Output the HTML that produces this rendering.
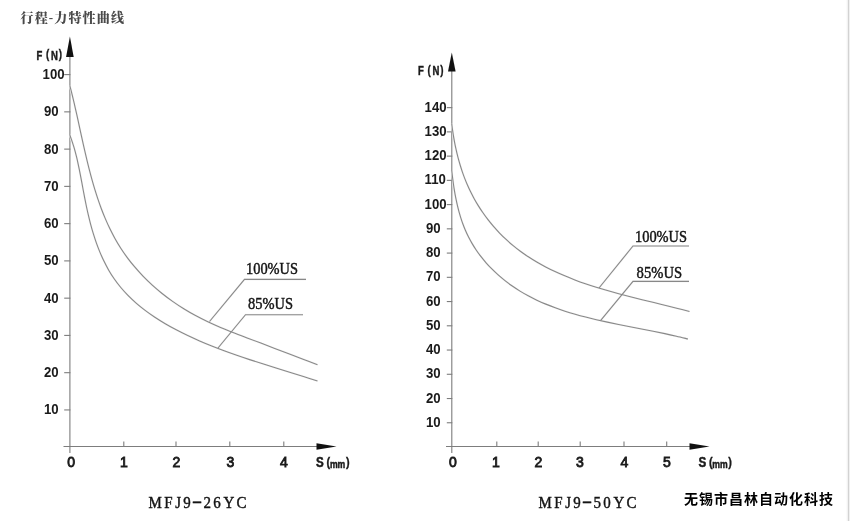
<!DOCTYPE html>
<html><head><meta charset="utf-8"><title>行程-力特性曲线</title>
<style>
html,body{margin:0;padding:0;background:#fff;}
body{width:850px;height:521px;position:relative;overflow:hidden;}
.title{position:absolute;top:8px;font:900 13px/20px "Liberation Serif","Noto Serif CJK SC",serif;color:#4a4a4a;letter-spacing:1.15px;left:20.5px;white-space:nowrap;}
.brand{position:absolute;left:684px;top:489px;font:bold 14px/20px "Liberation Sans","Noto Sans CJK SC",sans-serif;color:#000;letter-spacing:1px;white-space:nowrap;}
.edge{position:absolute;left:846px;top:0;width:4px;height:521px;background:linear-gradient(to right,#fbfbfb 0 1px,#f2f2f2 1px 2px,#d2d2d2 2px 3px,#f0f0f0 3px 4px);}
</style></head><body>
<svg width="850" height="521" viewBox="0 0 850 521" style="position:absolute;left:0;top:0">
<g fill="none" stroke="#7d7d7d" stroke-width="1.1">
<path d="M69.9,52V453.0"/>
<path d="M63.5,446.5H320"/>
<path d="M64.2,409.94H70.4"/>
<path d="M64.2,372.68H70.4"/>
<path d="M64.2,335.42H70.4"/>
<path d="M64.2,298.16H70.4"/>
<path d="M64.2,260.90H70.4"/>
<path d="M64.2,223.64H70.4"/>
<path d="M64.2,186.38H70.4"/>
<path d="M64.2,149.12H70.4"/>
<path d="M64.2,111.86H70.4"/>
<path d="M64.2,74.60H70.4"/>
<path d="M123.8,446.5v-5"/>
<path d="M176,446.5v-5"/>
<path d="M229.8,446.5v-5"/>
<path d="M283.8,446.5v-5"/>
<path d="M451.8,68V453.0"/>
<path d="M446,446.5H693"/>
<path d="M446.8,422.76H452.3"/>
<path d="M446.8,398.52H452.3"/>
<path d="M446.8,374.28H452.3"/>
<path d="M446.8,350.04H452.3"/>
<path d="M446.8,325.80H452.3"/>
<path d="M446.8,301.56H452.3"/>
<path d="M446.8,277.32H452.3"/>
<path d="M446.8,253.08H452.3"/>
<path d="M446.8,228.84H452.3"/>
<path d="M446.8,204.60H452.3"/>
<path d="M446.8,180.36H452.3"/>
<path d="M446.8,156.12H452.3"/>
<path d="M446.8,131.88H452.3"/>
<path d="M446.8,107.64H452.3"/>
<path d="M496.8,446.5v-5"/>
<path d="M538.2,446.5v-5"/>
<path d="M580.2,446.5v-5"/>
<path d="M624,446.5v-5"/>
<path d="M666.7,446.5v-5"/>
</g>
<g fill="none" stroke="#f5f5f5" stroke-width="2.1"><path d="M69.80,85.50C69.87,85.76 70.02,86.32 70.21,87.06C70.40,87.79 70.67,88.82 70.95,89.92C71.23,91.01 71.55,92.28 71.88,93.64C72.22,95.00 72.59,96.49 72.97,98.08C73.35,99.66 73.75,101.36 74.17,103.14C74.58,104.93 75.02,106.82 75.46,108.78C75.91,110.75 76.37,112.82 76.85,114.96C77.33,117.10 77.81,119.33 78.32,121.63C78.82,123.93 79.34,126.32 79.88,128.77C80.41,131.22 80.96,133.75 81.53,136.34C82.10,138.93 82.68,141.60 83.29,144.32C83.90,147.04 84.53,149.83 85.18,152.68C85.84,155.52 86.52,158.42 87.24,161.38C87.96,164.33 88.70,167.34 89.49,170.38C90.28,173.43 91.10,176.53 91.97,179.66C92.84,182.79 93.76,185.97 94.73,189.17C95.71,192.37 96.74,195.61 97.84,198.86C98.94,202.11 100.09,205.40 101.33,208.69C102.58,211.98 103.89,215.29 105.30,218.60C106.71,221.91 108.20,225.23 109.80,228.53C111.41,231.84 113.11,235.15 114.94,238.43C116.77,241.71 118.70,244.99 120.79,248.23C122.87,251.46 125.09,254.68 127.45,257.85C129.80,261.01 132.30,264.15 134.93,267.23C137.56,270.31 140.32,273.36 143.21,276.34C146.11,279.31 149.13,282.24 152.28,285.10C155.43,287.95 158.70,290.75 162.09,293.46C165.48,296.17 168.99,298.82 172.60,301.37C176.21,303.92 179.94,306.39 183.76,308.75C187.58,311.12 191.51,313.39 195.52,315.56C199.52,317.72 203.63,319.77 207.80,321.75C211.97,323.73 216.23,325.60 220.55,327.43C224.86,329.27 229.26,331.02 233.69,332.77C238.12,334.52 242.63,336.21 247.15,337.93C251.68,339.66 256.25,341.36 260.85,343.11C265.45,344.85 270.07,346.61 274.73,348.39C279.39,350.17 284.08,351.97 288.80,353.78C293.52,355.59 298.27,357.42 303.05,359.26C307.84,361.10 315.09,363.88 317.50,364.80"/><path d="M69.80,135.00C69.90,135.24 70.10,135.76 70.35,136.45C70.60,137.13 70.96,138.09 71.32,139.11C71.67,140.13 72.08,141.31 72.49,142.57C72.90,143.84 73.34,145.23 73.78,146.71C74.22,148.19 74.67,149.78 75.12,151.45C75.57,153.12 76.03,154.88 76.48,156.73C76.94,158.57 77.39,160.51 77.84,162.52C78.28,164.53 78.73,166.62 79.17,168.79C79.62,170.96 80.06,173.20 80.50,175.52C80.95,177.83 81.39,180.22 81.84,182.68C82.30,185.13 82.76,187.66 83.24,190.25C83.72,192.83 84.21,195.49 84.74,198.20C85.28,200.91 85.83,203.68 86.43,206.51C87.03,209.33 87.66,212.21 88.36,215.13C89.05,218.05 89.78,221.02 90.58,224.02C91.38,227.02 92.23,230.06 93.16,233.11C94.10,236.16 95.09,239.25 96.17,242.33C97.26,245.41 98.42,248.51 99.69,251.59C100.96,254.68 102.31,257.77 103.79,260.82C105.27,263.87 106.85,266.92 108.58,269.91C110.30,272.90 112.15,275.86 114.15,278.75C116.16,281.64 118.31,284.48 120.61,287.25C122.90,290.01 125.36,292.71 127.95,295.35C130.53,297.98 133.27,300.55 136.14,303.05C139.00,305.55 142.01,307.98 145.13,310.34C148.25,312.71 151.50,315.00 154.86,317.23C158.22,319.46 161.70,321.63 165.26,323.72C168.83,325.82 172.51,327.86 176.25,329.83C180.00,331.80 183.84,333.71 187.74,335.56C191.63,337.41 195.60,339.20 199.61,340.94C203.61,342.67 207.67,344.35 211.76,345.99C215.84,347.62 219.97,349.20 224.14,350.75C228.30,352.30 232.51,353.80 236.76,355.28C241.00,356.76 245.29,358.20 249.61,359.62C253.94,361.05 258.30,362.45 262.70,363.85C267.11,365.25 271.55,366.62 276.04,368.02C280.52,369.41 285.05,370.80 289.61,372.21C294.18,373.63 298.78,375.04 303.43,376.51C308.08,377.97 315.16,380.25 317.50,381.00"/><path d="M451.70,123.50C451.73,123.72 451.78,124.20 451.86,124.83C451.94,125.46 452.05,126.33 452.17,127.27C452.29,128.20 452.43,129.28 452.60,130.43C452.77,131.58 452.95,132.84 453.16,134.17C453.37,135.50 453.61,136.93 453.87,138.42C454.13,139.91 454.42,141.48 454.73,143.11C455.05,144.75 455.40,146.45 455.78,148.21C456.17,149.97 456.58,151.79 457.04,153.66C457.50,155.54 457.99,157.47 458.53,159.44C459.07,161.41 459.65,163.44 460.29,165.50C460.92,167.56 461.60,169.67 462.33,171.81C463.07,173.95 463.86,176.13 464.71,178.33C465.57,180.53 466.47,182.77 467.45,185.02C468.44,187.26 469.48,189.54 470.60,191.83C471.73,194.11 472.92,196.41 474.19,198.71C475.47,201.02 476.82,203.33 478.25,205.64C479.68,207.95 481.19,210.26 482.78,212.56C484.37,214.85 486.05,217.15 487.80,219.42C489.56,221.70 491.39,223.96 493.32,226.19C495.24,228.42 497.24,230.64 499.33,232.81C501.41,234.98 503.58,237.13 505.84,239.22C508.09,241.32 510.43,243.38 512.84,245.38C515.26,247.39 517.76,249.34 520.34,251.24C522.92,253.14 525.58,254.99 528.32,256.78C531.05,258.58 533.87,260.32 536.76,262.01C539.65,263.70 542.62,265.33 545.66,266.92C548.71,268.51 551.82,270.05 555.00,271.53C558.19,273.02 561.44,274.46 564.76,275.85C568.08,277.24 571.46,278.59 574.91,279.89C578.35,281.19 581.86,282.45 585.41,283.67C588.97,284.89 592.59,286.07 596.25,287.22C599.91,288.37 603.62,289.47 607.37,290.56C611.12,291.64 614.92,292.69 618.75,293.73C622.58,294.76 626.45,295.76 630.33,296.76C634.22,297.75 638.14,298.73 642.07,299.70C646.00,300.67 649.96,301.62 653.92,302.59C657.88,303.55 661.85,304.51 665.81,305.48C669.78,306.45 673.75,307.43 677.69,308.43C681.64,309.43 687.53,310.99 689.50,311.50"/><path d="M451.70,170.00C451.72,170.21 451.77,170.68 451.84,171.28C451.91,171.89 452.00,172.74 452.10,173.64C452.20,174.54 452.32,175.58 452.46,176.70C452.60,177.82 452.75,179.05 452.92,180.35C453.09,181.64 453.28,183.04 453.49,184.49C453.70,185.95 453.93,187.49 454.19,189.09C454.45,190.69 454.73,192.37 455.04,194.10C455.36,195.82 455.70,197.62 456.08,199.46C456.46,201.30 456.87,203.21 457.33,205.15C457.79,207.09 458.28,209.09 458.83,211.11C459.38,213.14 459.98,215.22 460.64,217.31C461.30,219.41 462.01,221.55 462.80,223.70C463.59,225.85 464.44,228.03 465.38,230.21C466.32,232.39 467.33,234.59 468.43,236.79C469.54,238.98 470.73,241.19 472.02,243.38C473.31,245.57 474.69,247.77 476.16,249.94C477.63,252.11 479.19,254.28 480.85,256.42C482.50,258.56 484.25,260.69 486.09,262.78C487.93,264.87 489.86,266.94 491.87,268.97C493.89,271.00 495.99,273.00 498.18,274.95C500.36,276.90 502.64,278.81 504.99,280.66C507.34,282.51 509.77,284.32 512.28,286.06C514.78,287.80 517.36,289.48 520.02,291.10C522.67,292.72 525.40,294.29 528.19,295.79C530.99,297.29 533.86,298.74 536.80,300.13C539.74,301.52 542.75,302.85 545.82,304.13C548.89,305.40 552.03,306.62 555.23,307.80C558.43,308.97 561.70,310.09 565.02,311.16C568.34,312.24 571.73,313.26 575.16,314.25C578.59,315.24 582.08,316.18 585.62,317.09C589.15,318.00 592.74,318.86 596.37,319.71C600.00,320.55 603.67,321.36 607.38,322.15C611.08,322.95 614.83,323.71 618.61,324.47C622.38,325.24 626.19,325.97 630.01,326.72C633.84,327.46 637.69,328.19 641.55,328.94C645.41,329.69 649.29,330.44 653.17,331.21C657.05,331.99 660.94,332.77 664.82,333.60C668.70,334.42 672.59,335.26 676.45,336.17C680.32,337.07 686.07,338.53 688.00,339.00"/><path d="M209.5,321.5L244.5,279.4H306"/><path d="M218,348L245.5,314.7H303"/><path d="M599,288L633,246H689"/><path d="M600.5,320.6L633,281.4H689"/></g>
<g fill="none" stroke="#888" stroke-width="1.1"><path d="M69.80,85.50C69.87,85.76 70.02,86.32 70.21,87.06C70.40,87.79 70.67,88.82 70.95,89.92C71.23,91.01 71.55,92.28 71.88,93.64C72.22,95.00 72.59,96.49 72.97,98.08C73.35,99.66 73.75,101.36 74.17,103.14C74.58,104.93 75.02,106.82 75.46,108.78C75.91,110.75 76.37,112.82 76.85,114.96C77.33,117.10 77.81,119.33 78.32,121.63C78.82,123.93 79.34,126.32 79.88,128.77C80.41,131.22 80.96,133.75 81.53,136.34C82.10,138.93 82.68,141.60 83.29,144.32C83.90,147.04 84.53,149.83 85.18,152.68C85.84,155.52 86.52,158.42 87.24,161.38C87.96,164.33 88.70,167.34 89.49,170.38C90.28,173.43 91.10,176.53 91.97,179.66C92.84,182.79 93.76,185.97 94.73,189.17C95.71,192.37 96.74,195.61 97.84,198.86C98.94,202.11 100.09,205.40 101.33,208.69C102.58,211.98 103.89,215.29 105.30,218.60C106.71,221.91 108.20,225.23 109.80,228.53C111.41,231.84 113.11,235.15 114.94,238.43C116.77,241.71 118.70,244.99 120.79,248.23C122.87,251.46 125.09,254.68 127.45,257.85C129.80,261.01 132.30,264.15 134.93,267.23C137.56,270.31 140.32,273.36 143.21,276.34C146.11,279.31 149.13,282.24 152.28,285.10C155.43,287.95 158.70,290.75 162.09,293.46C165.48,296.17 168.99,298.82 172.60,301.37C176.21,303.92 179.94,306.39 183.76,308.75C187.58,311.12 191.51,313.39 195.52,315.56C199.52,317.72 203.63,319.77 207.80,321.75C211.97,323.73 216.23,325.60 220.55,327.43C224.86,329.27 229.26,331.02 233.69,332.77C238.12,334.52 242.63,336.21 247.15,337.93C251.68,339.66 256.25,341.36 260.85,343.11C265.45,344.85 270.07,346.61 274.73,348.39C279.39,350.17 284.08,351.97 288.80,353.78C293.52,355.59 298.27,357.42 303.05,359.26C307.84,361.10 315.09,363.88 317.50,364.80"/><path d="M69.80,135.00C69.90,135.24 70.10,135.76 70.35,136.45C70.60,137.13 70.96,138.09 71.32,139.11C71.67,140.13 72.08,141.31 72.49,142.57C72.90,143.84 73.34,145.23 73.78,146.71C74.22,148.19 74.67,149.78 75.12,151.45C75.57,153.12 76.03,154.88 76.48,156.73C76.94,158.57 77.39,160.51 77.84,162.52C78.28,164.53 78.73,166.62 79.17,168.79C79.62,170.96 80.06,173.20 80.50,175.52C80.95,177.83 81.39,180.22 81.84,182.68C82.30,185.13 82.76,187.66 83.24,190.25C83.72,192.83 84.21,195.49 84.74,198.20C85.28,200.91 85.83,203.68 86.43,206.51C87.03,209.33 87.66,212.21 88.36,215.13C89.05,218.05 89.78,221.02 90.58,224.02C91.38,227.02 92.23,230.06 93.16,233.11C94.10,236.16 95.09,239.25 96.17,242.33C97.26,245.41 98.42,248.51 99.69,251.59C100.96,254.68 102.31,257.77 103.79,260.82C105.27,263.87 106.85,266.92 108.58,269.91C110.30,272.90 112.15,275.86 114.15,278.75C116.16,281.64 118.31,284.48 120.61,287.25C122.90,290.01 125.36,292.71 127.95,295.35C130.53,297.98 133.27,300.55 136.14,303.05C139.00,305.55 142.01,307.98 145.13,310.34C148.25,312.71 151.50,315.00 154.86,317.23C158.22,319.46 161.70,321.63 165.26,323.72C168.83,325.82 172.51,327.86 176.25,329.83C180.00,331.80 183.84,333.71 187.74,335.56C191.63,337.41 195.60,339.20 199.61,340.94C203.61,342.67 207.67,344.35 211.76,345.99C215.84,347.62 219.97,349.20 224.14,350.75C228.30,352.30 232.51,353.80 236.76,355.28C241.00,356.76 245.29,358.20 249.61,359.62C253.94,361.05 258.30,362.45 262.70,363.85C267.11,365.25 271.55,366.62 276.04,368.02C280.52,369.41 285.05,370.80 289.61,372.21C294.18,373.63 298.78,375.04 303.43,376.51C308.08,377.97 315.16,380.25 317.50,381.00"/><path d="M451.70,123.50C451.73,123.72 451.78,124.20 451.86,124.83C451.94,125.46 452.05,126.33 452.17,127.27C452.29,128.20 452.43,129.28 452.60,130.43C452.77,131.58 452.95,132.84 453.16,134.17C453.37,135.50 453.61,136.93 453.87,138.42C454.13,139.91 454.42,141.48 454.73,143.11C455.05,144.75 455.40,146.45 455.78,148.21C456.17,149.97 456.58,151.79 457.04,153.66C457.50,155.54 457.99,157.47 458.53,159.44C459.07,161.41 459.65,163.44 460.29,165.50C460.92,167.56 461.60,169.67 462.33,171.81C463.07,173.95 463.86,176.13 464.71,178.33C465.57,180.53 466.47,182.77 467.45,185.02C468.44,187.26 469.48,189.54 470.60,191.83C471.73,194.11 472.92,196.41 474.19,198.71C475.47,201.02 476.82,203.33 478.25,205.64C479.68,207.95 481.19,210.26 482.78,212.56C484.37,214.85 486.05,217.15 487.80,219.42C489.56,221.70 491.39,223.96 493.32,226.19C495.24,228.42 497.24,230.64 499.33,232.81C501.41,234.98 503.58,237.13 505.84,239.22C508.09,241.32 510.43,243.38 512.84,245.38C515.26,247.39 517.76,249.34 520.34,251.24C522.92,253.14 525.58,254.99 528.32,256.78C531.05,258.58 533.87,260.32 536.76,262.01C539.65,263.70 542.62,265.33 545.66,266.92C548.71,268.51 551.82,270.05 555.00,271.53C558.19,273.02 561.44,274.46 564.76,275.85C568.08,277.24 571.46,278.59 574.91,279.89C578.35,281.19 581.86,282.45 585.41,283.67C588.97,284.89 592.59,286.07 596.25,287.22C599.91,288.37 603.62,289.47 607.37,290.56C611.12,291.64 614.92,292.69 618.75,293.73C622.58,294.76 626.45,295.76 630.33,296.76C634.22,297.75 638.14,298.73 642.07,299.70C646.00,300.67 649.96,301.62 653.92,302.59C657.88,303.55 661.85,304.51 665.81,305.48C669.78,306.45 673.75,307.43 677.69,308.43C681.64,309.43 687.53,310.99 689.50,311.50"/><path d="M451.70,170.00C451.72,170.21 451.77,170.68 451.84,171.28C451.91,171.89 452.00,172.74 452.10,173.64C452.20,174.54 452.32,175.58 452.46,176.70C452.60,177.82 452.75,179.05 452.92,180.35C453.09,181.64 453.28,183.04 453.49,184.49C453.70,185.95 453.93,187.49 454.19,189.09C454.45,190.69 454.73,192.37 455.04,194.10C455.36,195.82 455.70,197.62 456.08,199.46C456.46,201.30 456.87,203.21 457.33,205.15C457.79,207.09 458.28,209.09 458.83,211.11C459.38,213.14 459.98,215.22 460.64,217.31C461.30,219.41 462.01,221.55 462.80,223.70C463.59,225.85 464.44,228.03 465.38,230.21C466.32,232.39 467.33,234.59 468.43,236.79C469.54,238.98 470.73,241.19 472.02,243.38C473.31,245.57 474.69,247.77 476.16,249.94C477.63,252.11 479.19,254.28 480.85,256.42C482.50,258.56 484.25,260.69 486.09,262.78C487.93,264.87 489.86,266.94 491.87,268.97C493.89,271.00 495.99,273.00 498.18,274.95C500.36,276.90 502.64,278.81 504.99,280.66C507.34,282.51 509.77,284.32 512.28,286.06C514.78,287.80 517.36,289.48 520.02,291.10C522.67,292.72 525.40,294.29 528.19,295.79C530.99,297.29 533.86,298.74 536.80,300.13C539.74,301.52 542.75,302.85 545.82,304.13C548.89,305.40 552.03,306.62 555.23,307.80C558.43,308.97 561.70,310.09 565.02,311.16C568.34,312.24 571.73,313.26 575.16,314.25C578.59,315.24 582.08,316.18 585.62,317.09C589.15,318.00 592.74,318.86 596.37,319.71C600.00,320.55 603.67,321.36 607.38,322.15C611.08,322.95 614.83,323.71 618.61,324.47C622.38,325.24 626.19,325.97 630.01,326.72C633.84,327.46 637.69,328.19 641.55,328.94C645.41,329.69 649.29,330.44 653.17,331.21C657.05,331.99 660.94,332.77 664.82,333.60C668.70,334.42 672.59,335.26 676.45,336.17C680.32,337.07 686.07,338.53 688.00,339.00"/><path d="M209.5,321.5L244.5,279.4H306"/><path d="M218,348L245.5,314.7H303"/><path d="M599,288L633,246H689"/><path d="M600.5,320.6L633,281.4H689"/>
</g>
<g fill="#111">
<path d="M69.9,36.5L73.7,57H66.10000000000001Z"/>
<path d="M336.5,446.5L316.5,443.3V449.7Z"/>
<path d="M451.8,52.5L455.6,71.5H448.0Z"/>
<path d="M709.5,446.5L689.5,443.3V449.7Z"/>
</g>
<g font-family="'Liberation Sans', sans-serif" font-weight="bold" font-size="14.5" fill="#1a1a1a">
<text transform="translate(44.0,414.44) scale(0.91,1)">10</text>
<text transform="translate(44.0,377.18) scale(0.91,1)">20</text>
<text transform="translate(44.0,339.92) scale(0.91,1)">30</text>
<text transform="translate(44.0,302.66) scale(0.91,1)">40</text>
<text transform="translate(44.0,265.40) scale(0.91,1)">50</text>
<text transform="translate(44.0,228.14) scale(0.91,1)">60</text>
<text transform="translate(44.0,190.88) scale(0.91,1)">70</text>
<text transform="translate(44.0,153.62) scale(0.91,1)">80</text>
<text transform="translate(44.0,116.36) scale(0.91,1)">90</text>
<text transform="translate(42.6,79.10) scale(0.91,1)">100</text>
<text transform="translate(426.0,426.76) scale(0.91,1)">10</text>
<text transform="translate(426.0,402.52) scale(0.91,1)">20</text>
<text transform="translate(426.0,378.28) scale(0.91,1)">30</text>
<text transform="translate(426.0,354.04) scale(0.91,1)">40</text>
<text transform="translate(426.0,329.80) scale(0.91,1)">50</text>
<text transform="translate(426.0,305.56) scale(0.91,1)">60</text>
<text transform="translate(426.0,281.32) scale(0.91,1)">70</text>
<text transform="translate(426.0,257.08) scale(0.91,1)">80</text>
<text transform="translate(426.0,232.84) scale(0.91,1)">90</text>
<text transform="translate(424.6,208.60) scale(0.91,1)">100</text>
<text transform="translate(424.6,184.36) scale(0.91,1)">110</text>
<text transform="translate(424.6,160.12) scale(0.91,1)">120</text>
<text transform="translate(424.6,135.88) scale(0.91,1)">130</text>
<text transform="translate(424.6,111.64) scale(0.91,1)">140</text>
<text x="71.1" y="466.6" text-anchor="middle" font-size="14" font-weight="normal" stroke="#1a1a1a" stroke-width="0.85">0</text>
<text x="123.8" y="466.6" text-anchor="middle" font-size="14" font-weight="normal" stroke="#1a1a1a" stroke-width="0.85">1</text>
<text x="176.5" y="466.6" text-anchor="middle" font-size="14" font-weight="normal" stroke="#1a1a1a" stroke-width="0.85">2</text>
<text x="230.4" y="466.6" text-anchor="middle" font-size="14" font-weight="normal" stroke="#1a1a1a" stroke-width="0.85">3</text>
<text x="283.9" y="466.6" text-anchor="middle" font-size="14" font-weight="normal" stroke="#1a1a1a" stroke-width="0.85">4</text>
<text x="453" y="466.6" text-anchor="middle" font-size="14" font-weight="normal" stroke="#1a1a1a" stroke-width="0.85">0</text>
<text x="495.8" y="466.6" text-anchor="middle" font-size="14" font-weight="normal" stroke="#1a1a1a" stroke-width="0.85">1</text>
<text x="538.5" y="466.6" text-anchor="middle" font-size="14" font-weight="normal" stroke="#1a1a1a" stroke-width="0.85">2</text>
<text x="579.8" y="466.6" text-anchor="middle" font-size="14" font-weight="normal" stroke="#1a1a1a" stroke-width="0.85">3</text>
<text x="624.4" y="466.6" text-anchor="middle" font-size="14" font-weight="normal" stroke="#1a1a1a" stroke-width="0.85">4</text>
<text x="666.8" y="466.6" text-anchor="middle" font-size="14" font-weight="normal" stroke="#1a1a1a" stroke-width="0.85">5</text>
</g>
<g font-family="'Liberation Sans', sans-serif" font-weight="bold" fill="#1a1a1a">
<text transform="scale(0.72,1)"><tspan x="580.56" y="75.10" font-size="13.2" stroke="#1a1a1a" stroke-width="0.5">F</tspan><tspan x="593.75" y="73.80" font-size="13.6" stroke="#1a1a1a" stroke-width="0.4">(</tspan><tspan x="600.83" y="75.10" font-size="13.2" stroke="#1a1a1a" stroke-width="0.5">N</tspan><tspan x="611.39" y="73.80" font-size="13.6" stroke="#1a1a1a" stroke-width="0.4">)</tspan></text>
<text transform="scale(0.72,1)"><tspan x="50.69" y="59.60" font-size="13.2" stroke="#1a1a1a" stroke-width="0.5">F</tspan><tspan x="63.89" y="58.30" font-size="13.6" stroke="#1a1a1a" stroke-width="0.4">(</tspan><tspan x="70.97" y="59.60" font-size="13.2" stroke="#1a1a1a" stroke-width="0.5">N</tspan><tspan x="81.53" y="58.30" font-size="13.6" stroke="#1a1a1a" stroke-width="0.4">)</tspan></text>
<text transform="scale(0.8,1)"><tspan x="873.00" y="467.40" font-size="14.5" stroke="#1a1a1a" stroke-width="0.5">S</tspan><tspan x="886.25" y="466.20" font-size="13.6" stroke="#1a1a1a" stroke-width="0.4">(</tspan><tspan x="890.37" y="467.70" font-size="10.8" stroke="#1a1a1a" stroke-width="0.5">mm</tspan><tspan x="910.37" y="466.20" font-size="13.6" stroke="#1a1a1a" stroke-width="0.4">)</tspan></text>
<text transform="scale(0.8,1)"><tspan x="395.00" y="467.40" font-size="14.5" stroke="#1a1a1a" stroke-width="0.5">S</tspan><tspan x="408.25" y="466.20" font-size="13.6" stroke="#1a1a1a" stroke-width="0.4">(</tspan><tspan x="412.37" y="467.70" font-size="10.8" stroke="#1a1a1a" stroke-width="0.5">mm</tspan><tspan x="432.37" y="466.20" font-size="13.6" stroke="#1a1a1a" stroke-width="0.4">)</tspan></text>
</g>
<g font-family="'Liberation Serif', serif" font-size="16" fill="#151515" stroke="#151515" stroke-width="0.45">
<text x="246" y="273.7" textLength="52" lengthAdjust="spacingAndGlyphs">100%US</text>
<text x="248" y="308.8" textLength="45" lengthAdjust="spacingAndGlyphs">85%US</text>
<text x="635" y="242.4" textLength="52" lengthAdjust="spacingAndGlyphs">100%US</text>
<text x="636.6" y="277.6" textLength="45.5" lengthAdjust="spacingAndGlyphs">85%US</text>
<text transform="scale(0.88,1)" text-anchor="middle" font-size="17" y="508.3"><tspan x="176.36" y="508.3">M</tspan><tspan x="191.36" y="508.3">F</tspan><tspan x="202.39" y="508.3">J</tspan><tspan x="212.39" y="508.3">9</tspan><tspan x="223.98" y="508.6" font-size="20" font-weight="bold">−</tspan><tspan x="235.57" y="508.3">2</tspan><tspan x="246.48" y="508.3">6</tspan><tspan x="260.23" y="508.3">Y</tspan><tspan x="274.32" y="508.3">C</tspan></text>
<text transform="scale(0.88,1)" text-anchor="middle" font-size="17" y="508.3"><tspan x="619.55" y="508.3">M</tspan><tspan x="634.55" y="508.3">F</tspan><tspan x="645.57" y="508.3">J</tspan><tspan x="655.57" y="508.3">9</tspan><tspan x="667.16" y="508.6" font-size="20" font-weight="bold">−</tspan><tspan x="678.75" y="508.3">5</tspan><tspan x="689.66" y="508.3">0</tspan><tspan x="703.41" y="508.3">Y</tspan><tspan x="717.50" y="508.3">C</tspan></text>
</g>
</svg>
<div class="title">行程-力特性曲线</div>
<div class="brand">无锡市昌林自动化科技</div>
<div class="edge"></div>
</body></html>
